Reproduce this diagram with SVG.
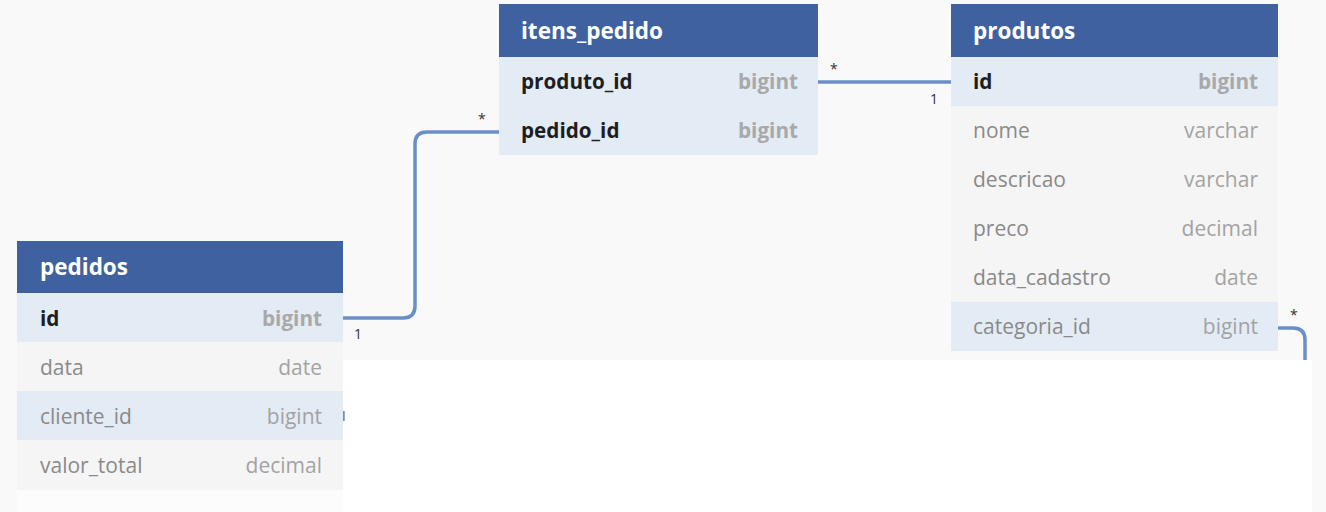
<svg xmlns="http://www.w3.org/2000/svg" width="1326" height="512" viewBox="0 0 1326 512">
<style>
.hdr{fill:#3f619f}
.pk{fill:#e3ebf5}
.rw{fill:#f5f5f5}
.ttl{font-family:"Open Sans",sans-serif;font-weight:bold;font-size:22.5px;fill:#ffffff}
.fb{font-family:"Open Sans",sans-serif;font-weight:bold;font-size:20.7px;fill:#1e1e1e}
.tb{font-family:"Open Sans",sans-serif;font-weight:bold;font-size:20.7px;fill:#a9a9a9;text-anchor:end}
.f{font-family:"Open Sans",sans-serif;font-size:21px;fill:#8a8a8a}
.t{font-family:"Open Sans",sans-serif;font-size:21px;fill:#a3a3a3;text-anchor:end}
.lbl{font-family:"Open Sans",sans-serif;font-size:14px;fill:#333333}
.ln{fill:none;stroke:#6a8fc8;stroke-width:3.5}
</style>
<rect x="0" y="0" width="1326" height="512" fill="#f9f9f9"/>
<rect x="343" y="360" width="969" height="152" fill="#ffffff"/>
<rect x="17" y="490" width="326" height="22" fill="#fcfcfc"/>
<g id="connectors">
<path class="ln" d="M343,318 H403 Q415,318 415,306 V144 Q415,132 427,132 H499"/>
<path class="ln" d="M818,82 H951"/>
<path class="ln" d="M1278,328 H1293 Q1305,328 1305,340 V360"/>
<path class="ln" d="M343,411 V421" stroke-width="2"/>
<text class="lbl" x="354" y="339">1</text>
<text class="lbl" x="478" y="124">*</text>
<text class="lbl" x="830" y="74">*</text>
<text class="lbl" x="930" y="104">1</text>
<text class="lbl" x="1290" y="320">*</text>
</g>
<g id="pedidos">
<rect class="hdr" x="17" y="241" width="326" height="52"/>
<text class="ttl" x="40" y="275">pedidos</text>
<rect class="pk" x="17" y="293" width="326" height="49"/>
<text class="fb" x="40" y="326">id</text><text class="tb" x="322" y="326">bigint</text>
<rect class="rw" x="17" y="342" width="326" height="49"/>
<text class="f" x="40" y="375">data</text><text class="t" x="322" y="375">date</text>
<rect class="pk" x="17" y="391" width="326" height="49"/>
<text class="f" x="40" y="424">cliente_id</text><text class="t" x="322" y="424">bigint</text>
<rect class="rw" x="17" y="440" width="326" height="50"/>
<text class="f" x="40" y="473">valor_total</text><text class="t" x="322" y="473">decimal</text>
</g>
<g id="itens_pedido">
<rect class="hdr" x="499" y="4" width="319" height="53"/>
<text class="ttl" x="521" y="39">itens_pedido</text>
<rect class="pk" x="499" y="57" width="319" height="98"/>
<text class="fb" x="521" y="89">produto_id</text><text class="tb" x="798" y="89">bigint</text>
<text class="fb" x="521" y="138">pedido_id</text><text class="tb" x="798" y="138">bigint</text>
</g>
<g id="produtos">
<rect class="hdr" x="951" y="4" width="327" height="53"/>
<text class="ttl" x="973" y="39">produtos</text>
<rect class="pk" x="951" y="57" width="327" height="49"/>
<text class="fb" x="973" y="89">id</text><text class="tb" x="1258" y="89">bigint</text>
<rect class="rw" x="951" y="106" width="327" height="196"/>
<text class="f" x="973" y="138">nome</text><text class="t" x="1258" y="138">varchar</text>
<text class="f" x="973" y="187">descricao</text><text class="t" x="1258" y="187">varchar</text>
<text class="f" x="973" y="236">preco</text><text class="t" x="1258" y="236">decimal</text>
<text class="f" x="973" y="285">data_cadastro</text><text class="t" x="1258" y="285">date</text>
<rect class="pk" x="951" y="302" width="327" height="49"/>
<text class="f" x="973" y="334">categoria_id</text><text class="t" x="1258" y="334">bigint</text>
</g>
</svg>
